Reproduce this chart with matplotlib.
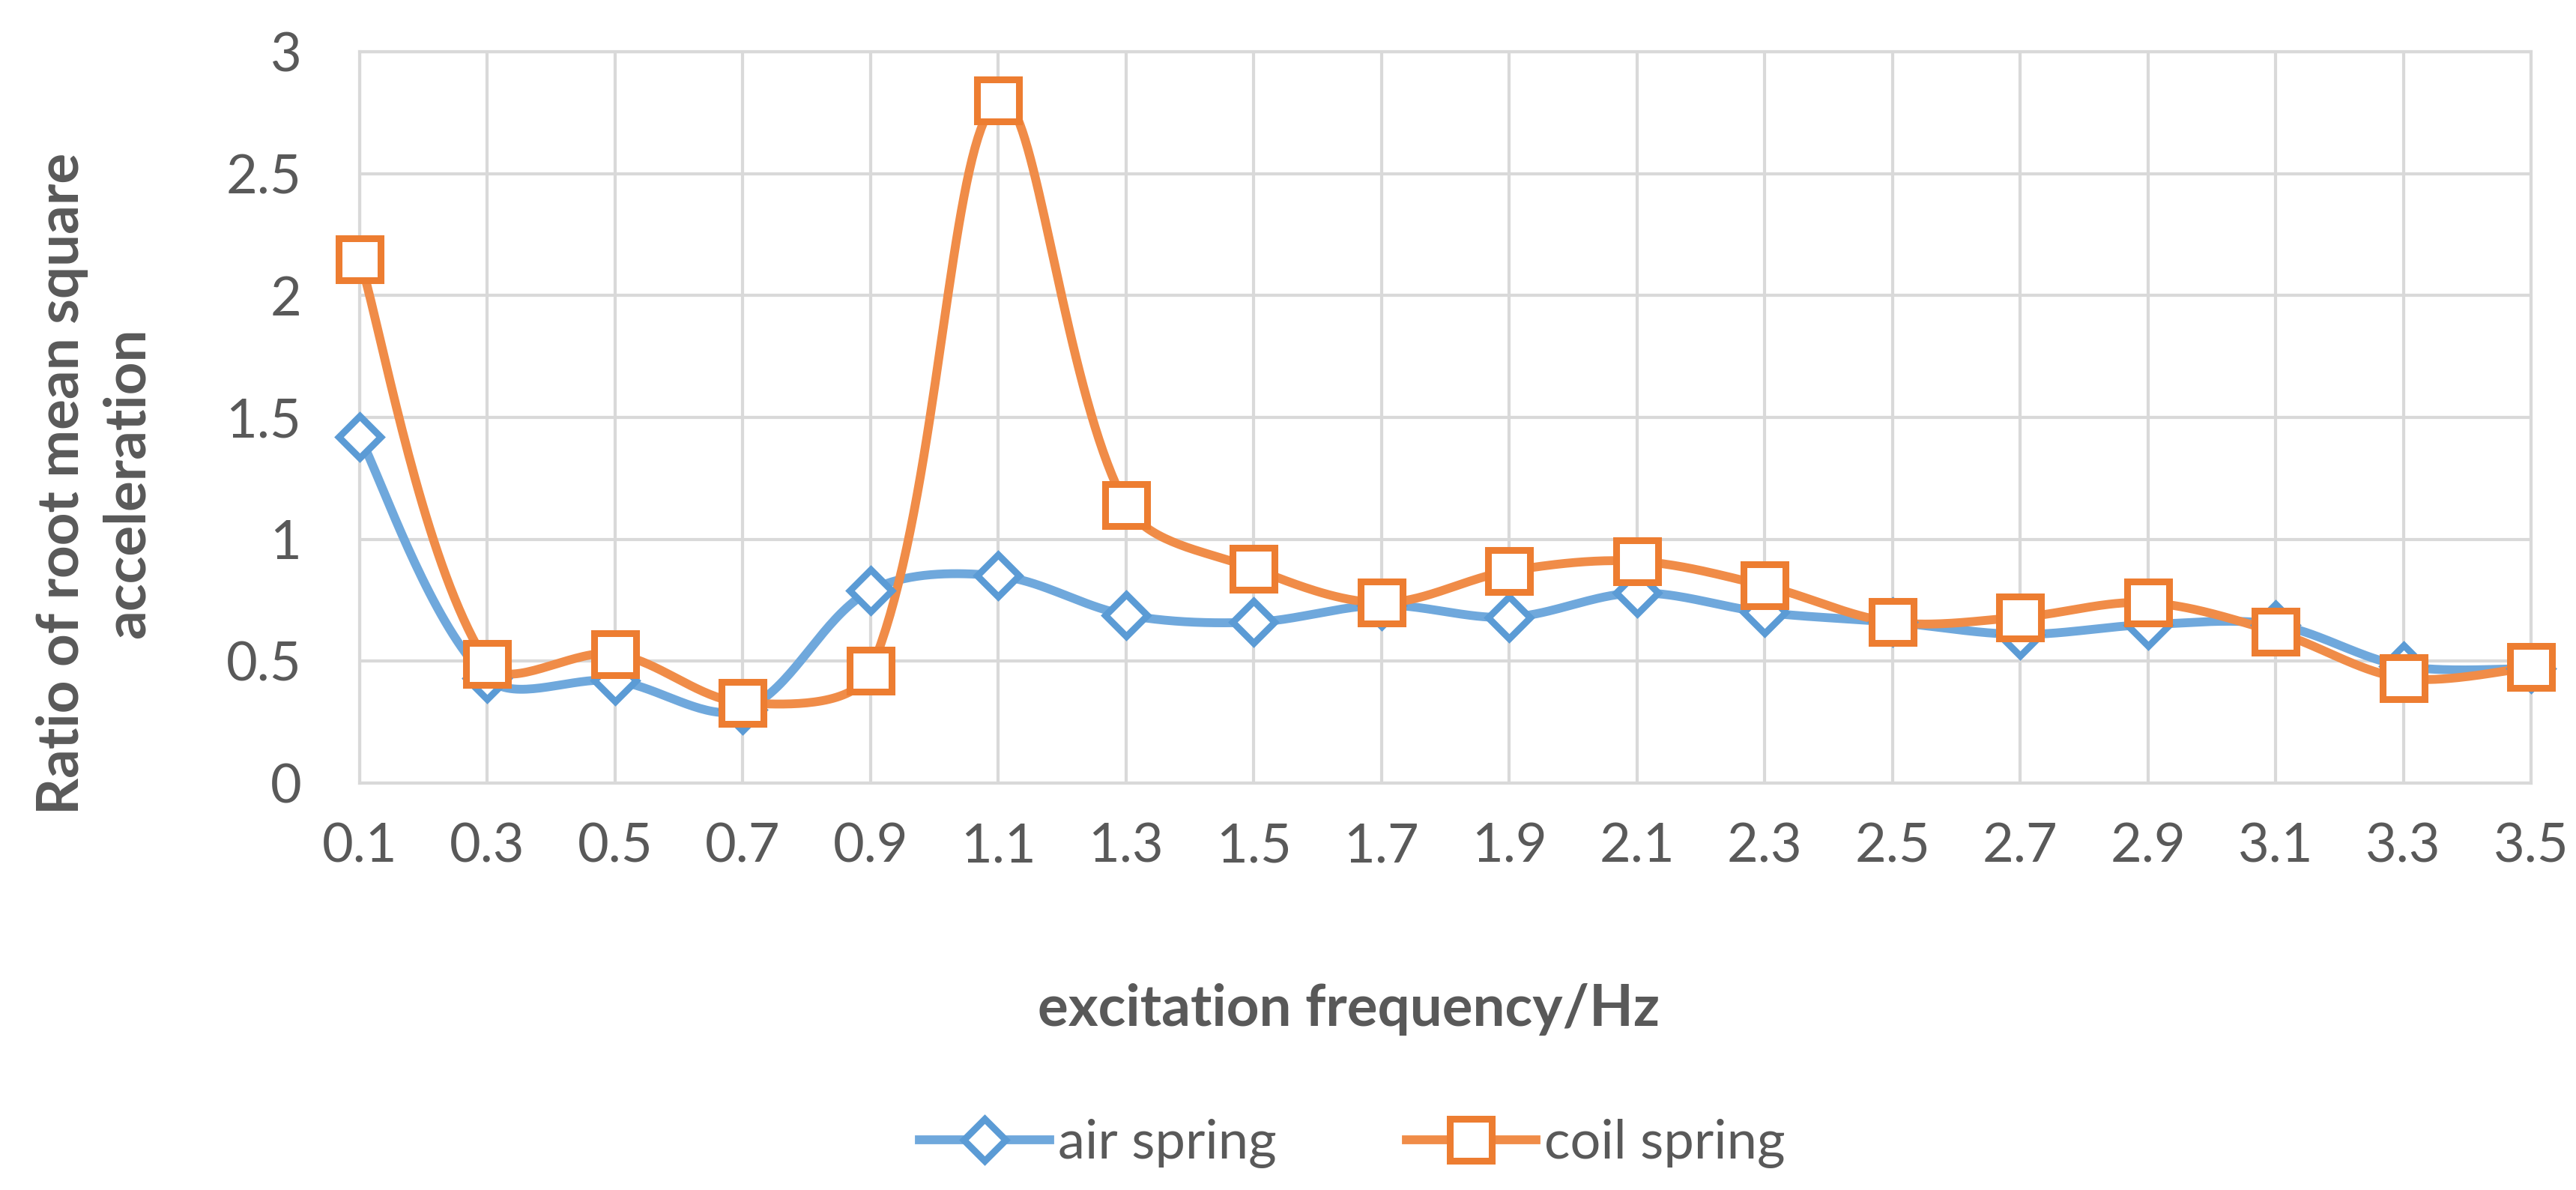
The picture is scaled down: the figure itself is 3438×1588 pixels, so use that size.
import numpy as np
import matplotlib
matplotlib.use('Agg')
import matplotlib.pyplot as plt
from matplotlib.lines import Line2D

plt.rcParams['font.family'] = ['Lato', 'DejaVu Sans']

# data
freq_labels = ['0.1', '0.3', '0.5', '0.7', '0.9', '1.1', '1.3', '1.5', '1.7',
               '1.9', '2.1', '2.3', '2.5', '2.7', '2.9', '3.1', '3.3', '3.5']
air_spring = [1.42, 0.43, 0.42, 0.30, 0.79, 0.85, 0.69, 0.66, 0.73,
              0.68, 0.78, 0.70, 0.66, 0.61, 0.65, 0.65, 0.48, 0.47]
coil_spring = [2.15, 0.49, 0.53, 0.33, 0.46, 2.80, 1.14, 0.88, 0.74,
               0.87, 0.91, 0.81, 0.66, 0.68, 0.74, 0.62, 0.43, 0.475]

text_col = '#595959'
grid_col = '#d9d9d9'


def smooth(ax, x, y, n=40):
    # excel-like smoothed line, bezier with chord-weighted tangents in pixel space
    p = ax.transData.transform(np.column_stack([x, y]).astype(float))
    p = np.vstack([p[0], p, p[-1]])
    d = np.hypot(*np.diff(p, axis=0).T)
    out = []
    t = np.linspace(0, 1, n)[:, None]
    for i in range(1, len(p) - 2):
        p0, p1, p2, p3 = p[i - 1], p[i], p[i + 1], p[i + 2]
        da, db, dc = d[i - 1], d[i], d[i + 1]
        k1 = db / (da + db) / 3 if da + db > 0 else 0
        k2 = db / (db + dc) / 3 if db + dc > 0 else 0
        if da == 0:
            k1 = 1 / 6
        if dc == 0:
            k2 = 1 / 6
        c1 = p1 + (p2 - p0) * k1
        c2 = p2 - (p3 - p1) * k2
        seg = ((1 - t) ** 3) * p1 + 3 * ((1 - t) ** 2) * t * c1 + 3 * (1 - t) * t ** 2 * c2 + t ** 3 * p2
        out.append(seg)
    out = ax.transData.inverted().transform(np.vstack(out))
    return out[:, 0], out[:, 1]


fig = plt.figure(figsize=(34.38, 15.88), dpi=100)
ax = fig.add_axes([480 / 3438, 1 - 1045 / 1588, (3378 - 480) / 3438, (1045 - 69) / 1588])

xs = np.arange(len(freq_labels))
ax.set_xlim(0, len(freq_labels) - 1)
ax.set_ylim(0, 3)

series = [
    (air_spring, '#6fa8dc', '#5b9bd5', 'D', 29, 'air spring'),
    (coil_spring, '#f08c48', '#ed7d31', 's', 40, 'coil spring'),
]
handles = []
for vals, lc, mc, mk, ms, name in series:
    sx, sy = smooth(ax, xs, vals)
    ax.plot(sx, sy, color=lc, lw=8.5, solid_capstyle='round', zorder=3, clip_on=False)
    ax.plot(xs, vals, ls='none', marker=mk, ms=ms, mfc='white', mec=mc, mew=6.5,
            zorder=4, clip_on=False)
    handles.append(Line2D([], [], color=lc, lw=8.5, marker=mk, ms=ms, mfc='white',
                          mec=mc, mew=6.5, label=name))

ax.set_xticks(xs)
ax.set_xticklabels(freq_labels)
ax.set_yticks(np.arange(0, 3.01, 0.5))
ax.set_yticklabels(['0', '0.5', '1', '1.5', '2', '2.5', '3'])
ax.grid(True, color=grid_col, lw=3)
ax.set_axisbelow(True)
for s in ax.spines.values():
    s.set_color(grid_col)
    s.set_linewidth(3)
ax.tick_params(length=0, labelsize=52, labelcolor=text_col)
ax.tick_params(axis='y', pad=56)
ax.tick_params(axis='x', pad=38)

fig.text(1800 / 3438, 1 - 1347 / 1588, 'excitation frequency/Hz', ha='center', va='center',
         fontsize=55, fontweight='bold', color=text_col)
fig.text(127 / 3438, 1 - 645 / 1588, 'Ratio of root mean square\nacceleration', ha='center',
         va='center', rotation=90, fontsize=55, fontweight='bold', color=text_col,
         multialignment='center', linespacing=1.3)

fig.legend(handles=handles, loc='center', bbox_to_anchor=(1805 / 3438, 1 - 1526 / 1588),
           ncol=2, frameon=False, fontsize=52, handlelength=2.4, handletextpad=0.15,
           columnspacing=2.4, labelcolor=text_col)

fig.savefig('out.png', dpi=100, facecolor='white')
